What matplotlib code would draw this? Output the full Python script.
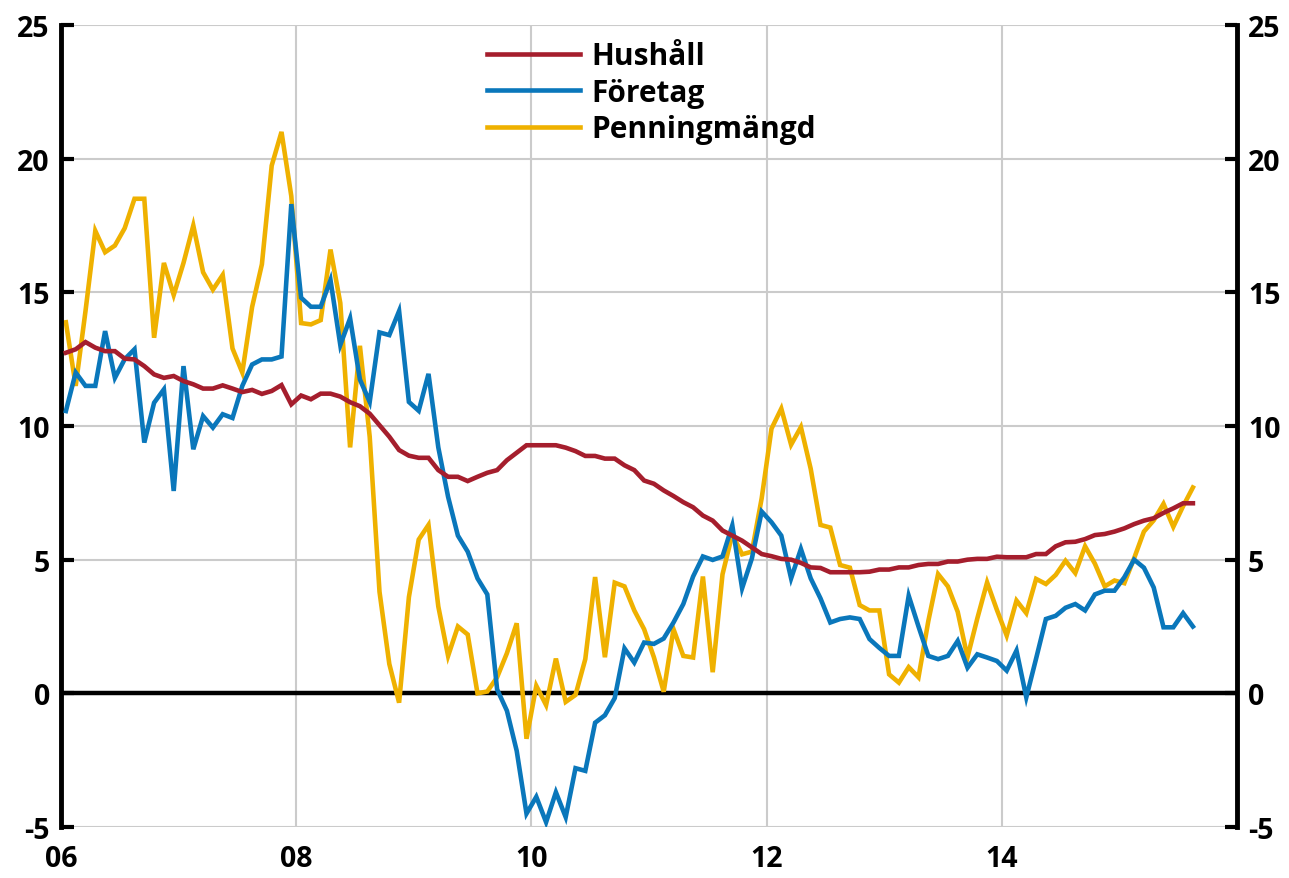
import numpy as np
import matplotlib
matplotlib.use("Agg")
import matplotlib.pyplot as plt

# ---- data (monthly, Jan 2006 - Aug 2015) ----
hushall = [
    12.74, 12.87, 13.14, 12.93, 12.8, 12.8, 12.52, 12.49, 12.24, 11.93,
    11.8, 11.87, 11.68, 11.56, 11.4, 11.4, 11.52, 11.4, 11.27, 11.35,
    11.2, 11.31, 11.53, 10.81, 11.14, 11.0, 11.21, 11.21, 11.1, 10.89,
    10.74, 10.46, 10.03, 9.6, 9.1, 8.89, 8.81, 8.81, 8.35,
    8.1, 8.1, 7.94, 8.1, 8.25, 8.35, 8.72, 9.0, 9.28, 9.28,
    9.28, 9.28, 9.19, 9.06, 8.88, 8.88, 8.78, 8.78, 8.53, 8.35,
    7.96, 7.84, 7.59, 7.38, 7.15, 6.96, 6.65, 6.46, 6.09, 5.9,
    5.71, 5.46, 5.21, 5.13, 5.03, 5.0, 4.88, 4.71, 4.69,
    4.53, 4.53, 4.53, 4.53, 4.55, 4.63, 4.63, 4.71, 4.71, 4.8,
    4.84, 4.84, 4.93, 4.93, 5.0, 5.03, 5.03, 5.11,
    5.09, 5.09, 5.09, 5.21, 5.21, 5.5, 5.65, 5.67, 5.77, 5.92,
    5.96, 6.05, 6.17, 6.33, 6.46, 6.55, 6.75, 6.92, 7.11, 7.11,
]

foretag = [
    10.56, 12.0, 11.5, 11.5, 13.55, 11.8, 12.5, 12.87, 9.38, 10.87,
    11.37, 7.57, 12.24, 9.13, 10.37, 9.94, 10.44, 10.3, 11.5, 12.3,
    12.49, 12.49, 12.6, 18.3, 14.8, 14.46, 14.46, 15.46, 13.03, 14.03,
    11.74, 10.9, 13.5, 13.4, 14.3, 10.9, 10.57, 11.95, 9.2,
    7.35, 5.9, 5.3, 4.3, 3.7, 0.15, -0.65, -2.15, -4.5, -3.87,
    -4.82, -3.7, -4.63, -2.8, -2.9, -1.1, -0.82, -0.18, 1.68, 1.15,
    1.9, 1.85, 2.05, 2.65, 3.34, 4.37, 5.12, 4.99, 5.12, 6.28,
    3.93, 5.05, 6.8, 6.4, 5.9, 4.3, 5.4, 4.3, 3.55,
    2.65, 2.78, 2.84, 2.78, 2.03, 1.7, 1.4, 1.4, 3.65, 2.5,
    1.4, 1.28, 1.4, 1.96, 0.96, 1.46, 1.34, 1.21,
    0.85, 1.6, -0.15, 1.3, 2.78, 2.9, 3.2, 3.34, 3.1, 3.7,
    3.84, 3.84, 4.34, 5.0, 4.7, 3.96, 2.47, 2.47, 3.0, 2.5,
]

penning = [
    13.88, 11.5, 14.3, 17.3, 16.5, 16.75, 17.4, 18.5, 18.5, 13.3,
    16.1, 14.9, 16.1, 17.5, 15.75, 15.1, 15.65, 12.9, 12.0, 14.45,
    16.05, 19.74, 21.0, 18.6, 13.85, 13.8, 13.96, 16.6, 14.6, 9.2,
    13.0, 9.6, 3.8, 1.1, -0.35, 3.6, 5.75, 6.3, 3.25,
    1.4, 2.5, 2.2, 0.0, 0.07, 0.6, 1.5, 2.62, -1.7, 0.28,
    -0.44, 1.3, -0.32, -0.06, 1.28, 4.35, 1.35, 4.14, 4.0, 3.1,
    2.4, 1.35, 0.06, 2.4, 1.4, 1.34, 4.37, 0.79, 4.45, 5.95,
    5.2, 5.3, 7.3, 9.9, 10.65, 9.3, 9.96, 8.4, 6.3,
    6.2, 4.8, 4.7, 3.3, 3.1, 3.1, 0.71, 0.4, 0.98, 0.6,
    2.7, 4.46, 4.0, 3.05, 1.35, 2.8, 4.15, 3.12,
    2.16, 3.47, 3.0, 4.28, 4.09, 4.43, 4.96, 4.5, 5.5, 4.85,
    4.0, 4.22, 4.12, 5.05, 6.05, 6.47, 7.09, 6.23, 7.0, 7.7,
]

series_names = ["Hushåll", "Företag", "Penningmängd"]
x_tick_years = [2006, 2008, 2010, 2012, 2014]
x_tick_labels = ["06", "08", "10", "12", "14"]
y_ticks = [-5, 0, 5, 10, 15, 20, 25]

# ---- style ----
plt.rcParams["font.family"] = ["Open Sans", "DejaVu Sans"]
plt.rcParams["font.weight"] = "bold"

RED = "#a51e2d"
BLUE = "#0a77bb"
YELLOW = "#efb100"

n = len(hushall)
x = 2006 + (np.arange(n) + 0.5) / 12.0

W, H = 1289, 879
fig = plt.figure(figsize=(W / 100, H / 100), dpi=100)
L, R, T, B = 61, 1237, 26, 828
ax = fig.add_axes([L / W, 1 - B / H, (R - L) / W, (B - T) / H])

ax.set_xlim(2006, 2016)
ax.set_ylim(-5, 25)

ax.grid(True, color="#cbcbcb", lw=1.5, zorder=0)
ax.set_axisbelow(True)
ax.axhline(0, color="black", lw=3.2, zorder=1)

ax.plot(x, penning, color=YELLOW, lw=3.3, zorder=2, label=series_names[2],
        solid_joinstyle="miter")
ax.plot(x, foretag, color=BLUE, lw=3.3, zorder=3, label=series_names[1],
        solid_joinstyle="miter")
ax.plot(x, hushall, color=RED, lw=3.3, zorder=4, label=series_names[0],
        solid_joinstyle="miter")

ax.set_xticks(x_tick_years)
ax.set_xticklabels(x_tick_labels)
ax.set_yticks(y_ticks)
ax.set_yticklabels([str(v) for v in y_ticks])

for s in ["top", "bottom"]:
    ax.spines[s].set_visible(False)
for s in ["left", "right"]:
    ax.spines[s].set_linewidth(3.5)
    ax.spines[s].set_color("black")

ax.tick_params(axis="y", which="both", direction="in", length=9, width=3,
               left=True, right=True, labelleft=True, labelright=True,
               labelsize=20.5, pad=8)
ax.tick_params(axis="x", length=0, labelsize=20.5, pad=12)
for lab in ax.get_xticklabels() + ax.get_yticklabels():
    lab.set_fontweight("bold")

handles, labels = ax.get_legend_handles_labels()
order = [2, 1, 0]
leg = ax.legend([handles[i] for i in order], [labels[i] for i in order],
                loc="upper left", bbox_to_anchor=((487 - L) / (R - L), 1 - (42 - T) / (B - T)),
                frameon=False, fontsize=21.5, handlelength=3.1, handletextpad=0.4,
                labelspacing=0.22, borderpad=0, borderaxespad=0)
for t in leg.get_texts():
    t.set_fontweight("bold")

fig.savefig("out.png", dpi=100)
